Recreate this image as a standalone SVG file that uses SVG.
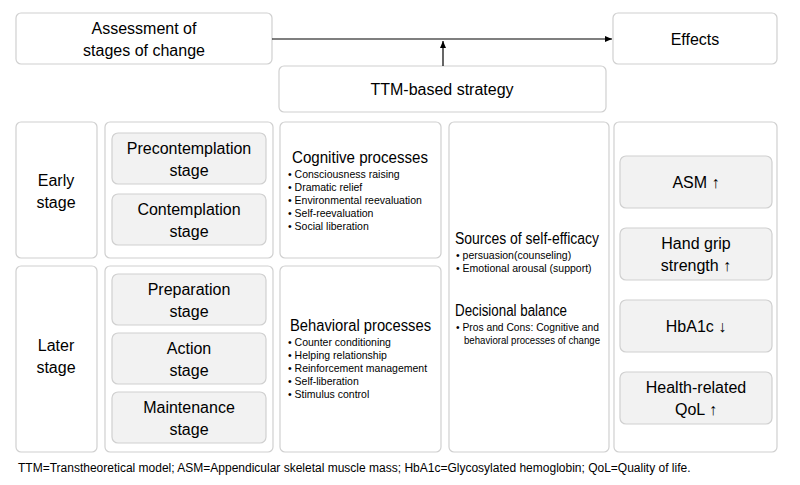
<svg xmlns="http://www.w3.org/2000/svg" width="800" height="485" viewBox="0 0 800 485">
<defs>
<style>
text{font-family:"Liberation Sans",Arial,sans-serif;fill:#000}
.o{fill:#fff;stroke:#d0d0d0;stroke-width:1.2}
.i{fill:#f2f2f2;stroke:#d0d0d0;stroke-width:1.2}
.t{font-size:16px;text-anchor:middle}
.h{font-size:16px}
.s{font-size:10.5px}
</style>
<marker id="a" markerWidth="8" markerHeight="8" refX="7" refY="4" orient="auto" markerUnits="userSpaceOnUse"><path d="M0,1 L7,4 L0,7z" fill="#000"/></marker>
</defs>
<g id="assessment"><rect class="o" x="16" y="13" width="256" height="51" rx="5"/><text class="t" x="144" y="34">Assessment of</text><text class="t" x="144" y="56">stages of change</text></g>
<g id="effects"><rect class="o" x="613" y="13" width="164" height="51" rx="5"/><text class="t" x="695" y="45">Effects</text></g>
<g id="ttm"><rect class="o" x="279" y="66" width="327" height="46" rx="5"/><text class="t" x="442" y="95">TTM-based strategy</text></g>
<g id="connectors" stroke="#000" stroke-width="1.2" fill="none">
<line x1="272" y1="39" x2="612" y2="39" marker-end="url(#a)"/>
<line x1="443" y1="66" x2="443" y2="41" marker-end="url(#a)"/>
</g>
<g id="early"><rect class="o" x="16" y="122" width="81" height="136" rx="5"/><text class="t" x="56" y="186">Early</text><text class="t" x="56" y="208">stage</text></g>
<g id="later"><rect class="o" x="16" y="266" width="81" height="186" rx="5"/><text class="t" x="56" y="351">Later</text><text class="t" x="56" y="373">stage</text></g>
<g id="earlystages"><rect class="o" x="105" y="122" width="168" height="136" rx="5"/>
<rect class="i" x="112" y="133" width="154" height="51" rx="6"/><text class="t" x="189" y="154">Precontemplation</text><text class="t" x="189" y="176">stage</text>
<rect class="i" x="112" y="194" width="154" height="51" rx="6"/><text class="t" x="189" y="215">Contemplation</text><text class="t" x="189" y="237">stage</text></g>
<g id="laterstages"><rect class="o" x="105" y="266" width="168" height="186" rx="5"/>
<rect class="i" x="112" y="274" width="154" height="51" rx="6"/><text class="t" x="189" y="295">Preparation</text><text class="t" x="189" y="317">stage</text>
<rect class="i" x="112" y="333" width="154" height="51" rx="6"/><text class="t" x="189" y="354">Action</text><text class="t" x="189" y="376">stage</text>
<rect class="i" x="112" y="392" width="154" height="51" rx="6"/><text class="t" x="189" y="413">Maintenance</text><text class="t" x="189" y="435">stage</text></g>
<g id="cognitive"><rect class="o" x="280" y="122" width="161" height="136" rx="5"/>
<text class="h" x="292" y="163" textLength="136" lengthAdjust="spacingAndGlyphs">Cognitive processes</text>
<text class="s" x="288" y="178">•  Consciousness raising</text>
<text class="s" x="288" y="191">•  Dramatic relief</text>
<text class="s" x="288" y="204">•  Environmental reevaluation</text>
<text class="s" x="288" y="217">•  Self-reevaluation</text>
<text class="s" x="288" y="230">•  Social liberation</text></g>
<g id="behavioral"><rect class="o" x="280" y="266" width="161" height="186" rx="5"/>
<text class="h" x="290" y="331" textLength="141" lengthAdjust="spacingAndGlyphs">Behavioral processes</text>
<text class="s" x="288" y="346">•  Counter conditioning</text>
<text class="s" x="288" y="359">•  Helping relationship</text>
<text class="s" x="288" y="372">•  Reinforcement management</text>
<text class="s" x="288" y="385">•  Self-liberation</text>
<text class="s" x="288" y="398">•  Stimulus control</text></g>
<g id="selfefficacy"><rect class="o" x="449" y="122" width="160" height="330" rx="5"/>
<text class="h" x="455" y="244" textLength="144" lengthAdjust="spacingAndGlyphs">Sources of self-efficacy</text>
<text class="s" x="456" y="259">•  persuasion(counseling)</text>
<text class="s" x="456" y="272">•  Emotional arousal (support)</text>
<text class="h" x="455" y="316" textLength="112" lengthAdjust="spacingAndGlyphs">Decisional balance</text>
<text class="s" x="456" y="331" textLength="143" lengthAdjust="spacingAndGlyphs">•  Pros and Cons: Cognitive and</text>
<text class="s" x="464" y="344" textLength="136" lengthAdjust="spacingAndGlyphs">behavioral processes of change</text></g>
<g id="effectslist"><rect class="o" x="614" y="122" width="163" height="330" rx="5"/>
<rect class="i" x="620" y="156" width="152" height="52" rx="6"/><text class="t" x="696" y="188">ASM ↑</text>
<rect class="i" x="620" y="228" width="152" height="52" rx="6"/><text class="t" x="696" y="249">Hand grip</text><text class="t" x="696" y="271">strength ↑</text>
<rect class="i" x="620" y="300" width="152" height="52" rx="6"/><text class="t" x="696" y="332">HbA1c  ↓</text>
<rect class="i" x="620" y="372" width="152" height="52" rx="6"/><text class="t" x="696" y="393">Health-related</text><text class="t" x="696" y="415">QoL ↑</text></g>
<text x="18" y="472" style="font-size:12px">TTM=Transtheoretical model; ASM=Appendicular skeletal muscle mass; HbA1c=Glycosylated hemoglobin; QoL=Quality of life.</text>
</svg>
